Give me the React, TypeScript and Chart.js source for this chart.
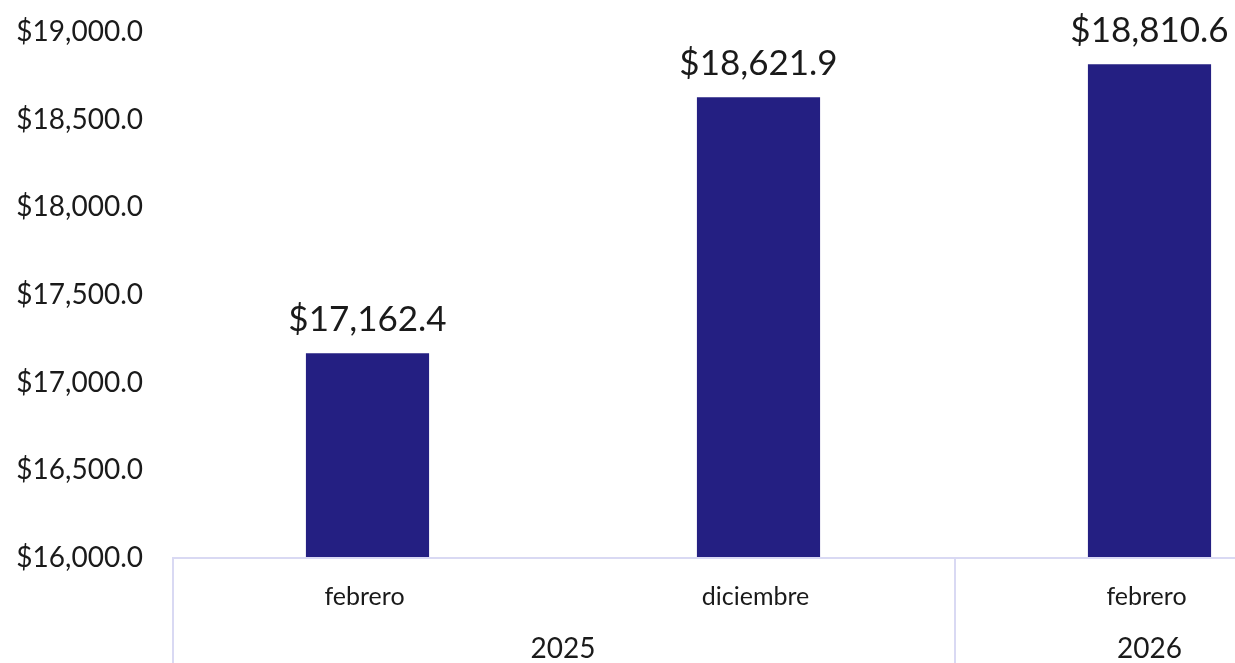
import React, { useEffect, useRef } from "react";
import { Chart, registerables } from "chart.js";

Chart.register(...registerables);

const months = ["febrero", "diciembre", "febrero"];
const years = ["2025", "2025", "2026"];
const values = [17162.4, 18621.9, 18810.6];
const yMin = 16000;
const yMax = 19000;
const yStep = 500;

const BAR_COLOR = "#241F82";
const LINE_COLOR = "#D9D9F3";
const TEXT_COLOR = "#1A1A1A";
const FONT = "Lato";

const fmt = (v: number) =>
  "$" + v.toLocaleString("en-US", { minimumFractionDigits: 1, maximumFractionDigits: 1 });

const overlayPlugin = {
  id: "overlay",
  afterDraw(chart: any) {
    const { ctx, chartArea } = chart;
    const xs = chart.scales.x;
    const ys = chart.scales.y;
    const n = months.length;
    const catW = (chartArea.right - chartArea.left) / n;
    const H = chart.height;
    ctx.save();
    ctx.strokeStyle = LINE_COLOR;
    ctx.lineWidth = 2;
    ctx.beginPath();
    ctx.moveTo(chartArea.left, chartArea.bottom + 1);
    ctx.lineTo(chartArea.right, chartArea.bottom + 1);
    ctx.stroke();
    const groups: { year: string; start: number; end: number }[] = [];
    years.forEach((y, i) => {
      const g = groups[groups.length - 1];
      if (g && g.year === y) g.end = i;
      else groups.push({ year: y, start: i, end: i });
    });
    const seps = [0, ...groups.map((g) => g.end + 1)];
    seps.forEach((k) => {
      const x = chartArea.left + k * catW + 1;
      ctx.beginPath();
      ctx.moveTo(x, chartArea.bottom);
      ctx.lineTo(x, H);
      ctx.stroke();
    });
    ctx.fillStyle = TEXT_COLOR;
    ctx.textAlign = "right";
    ctx.textBaseline = "middle";
    ctx.font = `28px ${FONT}`;
    for (let v = yMin; v <= yMax; v += yStep) {
      ctx.fillText(fmt(v), chartArea.left - 29, ys.getPixelForValue(v) + 1);
    }
    ctx.textAlign = "center";
    ctx.textBaseline = "alphabetic";
    ctx.font = `25px ${FONT}`;
    months.forEach((m, i) => {
      ctx.fillText(m, xs.getPixelForValue(i) - 3, chartArea.bottom + 48);
    });
    ctx.font = `28px ${FONT}`;
    groups.forEach((g) => {
      const x = chartArea.left + ((g.start + g.end + 1) / 2) * catW;
      ctx.fillText(g.year, x, chartArea.bottom + 101);
    });
    const meta = chart.getDatasetMeta(0);
    ctx.font = `35px ${FONT}`;
    meta.data.forEach((bar: any, i: number) => {
      ctx.fillText(fmt(values[i]), bar.x, bar.y - 22);
    });
    ctx.restore();
  },
};

export default function App() {
  const ref = useRef<HTMLCanvasElement | null>(null);
  useEffect(() => {
    if (!ref.current) return;
    const chart = new Chart(ref.current, {
      type: "bar",
      data: {
        labels: months,
        datasets: [
          {
            data: values,
            backgroundColor: BAR_COLOR,
            borderWidth: 0,
            barPercentage: 0.315,
            categoryPercentage: 1,
          },
        ],
      },
      options: {
        responsive: false,
        animation: false,
        layout: { padding: { top: 31, left: 0, right: 0, bottom: 0 } },
        plugins: {
          legend: { display: false },
          tooltip: { enabled: false },
        },
        scales: {
          x: {
            grid: { display: false },
            border: { display: false },
            ticks: { display: false },
            afterFit: (s: any) => {
              s.height = 106;
            },
          },
          y: {
            min: yMin,
            max: yMax,
            grid: { display: false },
            border: { display: false },
            ticks: { display: false, stepSize: yStep },
            afterFit: (s: any) => {
              s.width = 172;
            },
          },
        },
      },
      plugins: [overlayPlugin],
    });
    return () => chart.destroy();
  }, []);
  return (
    <div
      style={{
        position: "fixed",
        left: 0,
        top: 0,
        width: 1235,
        height: 663,
        overflow: "hidden",
        background: "#fff",
      }}
    >
      <canvas ref={ref} width={1345} height={663} style={{ width: 1345, height: 663 }} />
    </div>
  );
}
